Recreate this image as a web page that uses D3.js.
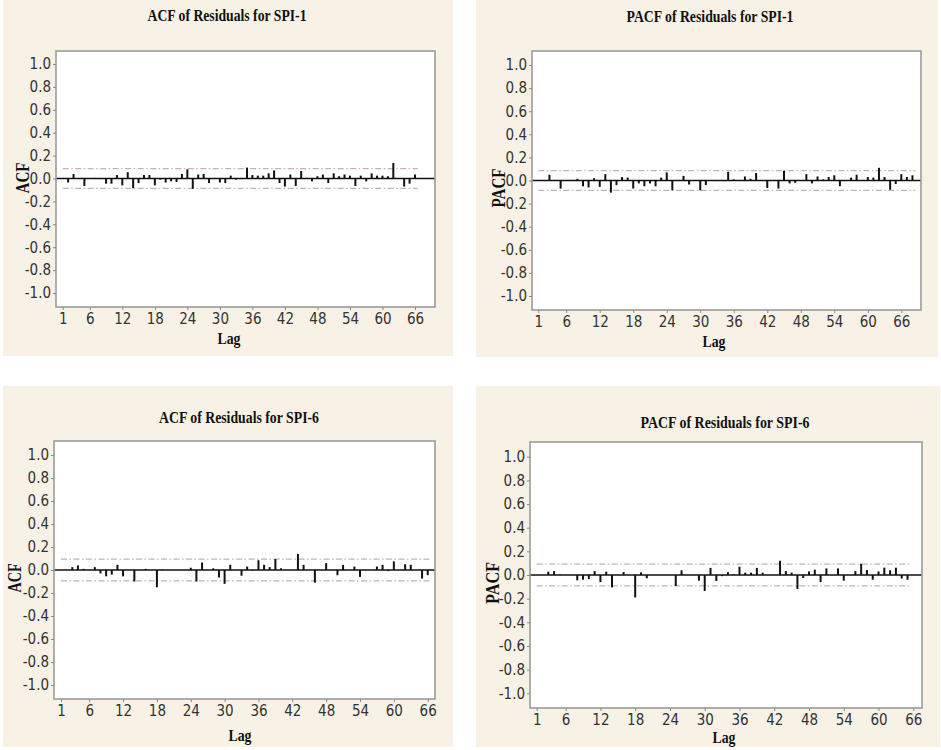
<!DOCTYPE html>
<html>
<head>
<meta charset="utf-8">
<script src="https://cdn.jsdelivr.net/npm/d3@7"></script>
<style>
  body { margin: 0; background: #fff; }
  .tick text { font-family: "Liberation Sans Narrow", "Arial Narrow", "DejaVu Sans Condensed", "Liberation Sans", sans-serif; font-size: 15px; fill: #333; }
  .tick line { stroke: #8a8a8a; }
  .domain { display: none; }
  .ttl { font-family: "Liberation Serif", "Times New Roman", serif; font-weight: bold; fill: #111; }
</style>
</head>
<body>
<div id="container"></div>
<script>
/* DATA (lag = index + 1) */
const acfSpi1 = [
  0.005, -0.035, 0.04, 0.0, -0.065, 0.0, 0.005, -0.005, -0.045, -0.045,
  0.03, -0.06, 0.055, -0.085, -0.04, 0.03, 0.03, -0.06, -0.01, -0.035,
  -0.025, -0.03, 0.04, 0.08, -0.09, 0.035, 0.04, -0.04, 0.0, -0.035,
  -0.04, 0.025, -0.01, -0.005, 0.095, 0.03, 0.025, 0.025, 0.045, 0.07,
  -0.04, -0.07, 0.035, -0.065, 0.065, 0.005, -0.025, 0.02, 0.035, -0.04,
  0.045, 0.02, 0.035, 0.025, -0.065, 0.025, -0.025, 0.045, 0.025, 0.025,
  0.02, 0.135, 0.0, -0.07, -0.045, 0.035
];
const pacfSpi1 = [
  0.0, -0.005, 0.05, 0.0, -0.07, 0.0, 0.0, 0.015, -0.05, -0.06,
  0.02, -0.055, 0.055, -0.105, -0.04, 0.03, 0.025, -0.07, -0.025, -0.05,
  -0.025, -0.05, 0.025, 0.07, -0.085, 0.0, 0.04, -0.035, 0.0, -0.085,
  -0.04, 0.0, -0.005, -0.005, 0.075, 0.01, 0.005, 0.035, 0.015, 0.065,
  0.0, -0.065, 0.0, -0.07, 0.085, -0.025, -0.02, 0.0, 0.055, -0.025,
  0.035, 0.01, 0.03, 0.045, -0.05, 0.0, 0.025, 0.05, 0.0, 0.03,
  0.025, 0.11, 0.03, -0.08, -0.03, 0.055, 0.03, 0.045
];
const acfSpi6 = [
  0.0, 0.0, 0.025, 0.04, 0.01, 0.0, 0.025, -0.03, -0.055, -0.04,
  0.045, -0.055, 0.0, -0.1, 0.0, 0.01, 0.0, -0.15, 0.005, 0.0,
  0.0, 0.0, 0.0, 0.02, -0.1, 0.065, 0.0, 0.015, -0.065, -0.12,
  0.045, 0.0, -0.05, 0.03, -0.005, 0.085, 0.045, 0.025, 0.095, 0.015,
  0.0, 0.0, 0.14, 0.045, 0.0, -0.11, 0.0, 0.06, 0.0, -0.045,
  0.045, 0.0, 0.03, -0.06, 0.0, 0.0, 0.03, 0.045, -0.01, 0.075,
  0.0, 0.05, 0.045, 0.0, -0.075, -0.045
];
const pacfSpi6 = [
  0.0, 0.0, 0.028, 0.033, 0.005, 0.0, 0.0, -0.045, -0.04, -0.035,
  0.033, -0.06, 0.028, -0.105, 0.0, 0.025, 0.0, -0.19, 0.022, -0.028,
  0.0, 0.0, 0.0, 0.0, -0.093, 0.04, 0.0, 0.0, -0.048, -0.135,
  0.06, -0.05, -0.01, 0.025, 0.005, 0.07, 0.02, 0.02, 0.06, 0.02,
  0.0, 0.0, 0.12, 0.033, 0.02, -0.118, -0.025, 0.03, 0.045, -0.06,
  0.056, 0.0, 0.056, -0.048, 0.0, 0.033, 0.095, 0.042, -0.04, 0.03,
  0.062, 0.04, 0.062, -0.03, -0.04
];

// significance limits
const limitAcf1 = 0.087, limitPacf1 = 0.085, limitAcf6 = 0.095, limitPacf6 = 0.092;

// tick labels
const xTicks = [1, 6, 12, 18, 24, 30, 36, 42, 48, 54, 60, 66];
const yTicks = [-1.0, -0.8, -0.6, -0.4, -0.2, 0.0, 0.2, 0.4, 0.6, 0.8, 1.0];

/* LAYOUT of the four panels */
const panels = [
  { title: "ACF of Residuals for SPI-1", ylab: "ACF", values: acfSpi1, limit: limitAcf1,
    bg: [3, 0, 453, 356], frame: [56, 51, 435, 307], x1: 62.7, x66: 415, yTop: 64, yBot: 293,
    tXY: [227, 20.5], tLen: 159, yXY: [23, 178], yLen: 31, xXY: [229, 344] },
  { title: "PACF of Residuals for SPI-1", ylab: "PACF", values: pacfSpi1, limit: limitPacf1,
    bg: [476, 0, 938, 357], frame: [532, 51, 921, 310], x1: 538.3, x66: 901.3, yTop: 65, yBot: 296,
    tXY: [710, 22], tLen: 167, yXY: [499, 188], yLen: 39, xXY: [714, 346.5] },
  { title: "ACF of Residuals for SPI-6", ylab: "ACF", values: acfSpi6, limit: limitAcf6,
    bg: [3, 386, 453, 747], frame: [54, 441, 435, 699], x1: 61, x66: 427.7, yTop: 455, yBot: 685,
    tXY: [239, 423], tLen: 160, yXY: [15, 578], yLen: 29, xXY: [240, 740.5] },
  { title: "PACF of Residuals for SPI-6", ylab: "PACF", values: pacfSpi6, limit: limitPacf6,
    bg: [476, 386, 940, 747], frame: [530, 442, 922, 708], x1: 536.7, x66: 913.3, yTop: 456.7, yBot: 693.3,
    tXY: [725, 428], tLen: 169, yXY: [493, 583], yLen: 42, xXY: [724, 742.5] }
];

// hyphen minus like the original, not the typographic one
const yFormat = d => d3.format(".1f")(d).replace("\u2212", "-");

const svg = d3.select("#container")
  .append("svg")
  .attr("width", 941)
  .attr("height", 750);

panels.forEach(p => {
  const g = svg.append("g");

  // beige panel background
  g.append("rect")
    .attr("x", p.bg[0]).attr("y", p.bg[1])
    .attr("width", p.bg[2] - p.bg[0]).attr("height", p.bg[3] - p.bg[1])
    .attr("fill", "#f7f1e6");

  const xScale = d3.scaleLinear().domain([1, 66]).range([p.x1, p.x66]);
  const yScale = d3.scaleLinear().domain([-1, 1]).range([p.yBot, p.yTop]);

  const [fx0, fy0, fx1, fy1] = p.frame;

  // white plot area
  g.append("rect")
    .attr("x", fx0).attr("y", fy0)
    .attr("width", fx1 - fx0).attr("height", fy1 - fy0)
    .attr("fill", "#fff");

  // significance limits (dash-dot)
  const n = p.values.length;
  [p.limit, -p.limit].forEach(l => {
    g.append("line")
      .attr("x1", xScale(1)).attr("x2", xScale(n + 0.5))
      .attr("y1", yScale(l)).attr("y2", yScale(l))
      .attr("stroke", "#c9b0b0")
      .attr("stroke-width", 1.3)
      .attr("stroke-dasharray", "6,2.5,1.5,2.5");
  });

  // zero line
  g.append("line")
    .attr("x1", fx0).attr("x2", fx1)
    .attr("y1", yScale(0)).attr("y2", yScale(0))
    .attr("stroke", "#111").attr("stroke-width", 1.6);

  // bars
  g.selectAll("line.bar")
    .data(p.values)
    .join("line")
    .attr("class", "bar")
    .attr("x1", (d, i) => xScale(i + 1))
    .attr("x2", (d, i) => xScale(i + 1))
    .attr("y1", yScale(0))
    .attr("y2", d => yScale(d))
    .attr("stroke", "#111")
    .attr("stroke-width", 2);

  // frame
  g.append("rect")
    .attr("x", fx0).attr("y", fy0)
    .attr("width", fx1 - fx0).attr("height", fy1 - fy0)
    .attr("fill", "none")
    .attr("stroke", "#9c9c9c")
    .attr("stroke-width", 1.6);

  // axes
  g.append("g")
    .attr("transform", `translate(${fx0},0)`)
    .call(d3.axisLeft(yScale).tickValues(yTicks).tickFormat(yFormat).tickSize(3).tickPadding(2));

  g.append("g")
    .attr("transform", `translate(0,${fy1})`)
    .call(d3.axisBottom(xScale).tickValues(xTicks).tickFormat(d3.format("d")).tickSize(3).tickPadding(3));

  // title
  g.append("text")
    .attr("class", "ttl")
    .attr("x", p.tXY[0]).attr("y", p.tXY[1])
    .attr("text-anchor", "middle")
    .attr("font-size", 16.5)
    .attr("textLength", p.tLen)
    .attr("lengthAdjust", "spacingAndGlyphs")
    .text(p.title);

  // y label
  g.append("text")
    .attr("class", "ttl")
    .attr("transform", `translate(${p.yXY[0]},${p.yXY[1]}) rotate(-90)`)
    .attr("text-anchor", "middle")
    .attr("dy", "0.35em")
    .attr("font-size", 18)
    .attr("textLength", p.yLen)
    .attr("lengthAdjust", "spacingAndGlyphs")
    .text(p.ylab);

  // x label
  g.append("text")
    .attr("class", "ttl")
    .attr("x", p.xXY[0]).attr("y", p.xXY[1])
    .attr("text-anchor", "middle")
    .attr("font-size", 17)
    .attr("textLength", 23)
    .attr("lengthAdjust", "spacingAndGlyphs")
    .text("Lag");
});
</script>
</body>
</html>
